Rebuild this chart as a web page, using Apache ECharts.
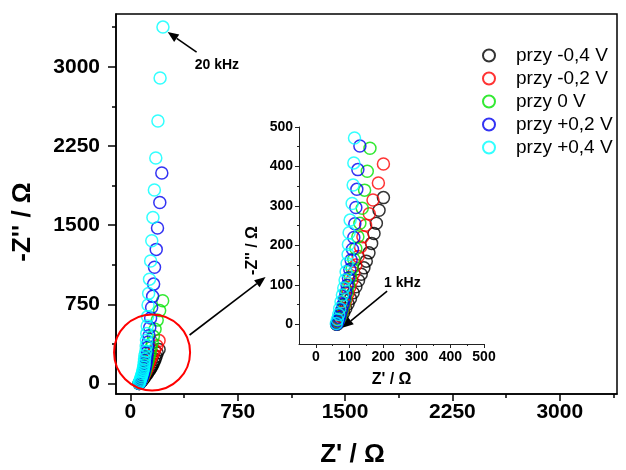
<!DOCTYPE html>
<html><head><meta charset="utf-8">
<script src="https://cdn.jsdelivr.net/npm/echarts@6/dist/echarts.min.js"></script>
<style>html,body{margin:0;padding:0;background:#fff}#c{width:626px;height:470px}</style>
</head><body><div id="c"></div>
<script>
const seriesNames = ['przy -0,4 V', 'przy -0,2 V', 'przy 0 V', 'przy +0,2 V', 'przy +0,4 V'];
const seriesColors = ['#000000', '#ff0000', '#00e400', '#0000f0', '#00ffff'];

const zRe_m04 = [63, 65, 68, 72, 77, 83, 89, 96, 103, 111, 119, 127, 135, 143, 150, 158, 166, 173, 180, 188, 201];
const zIm_m04 = [0, 2, 6, 12, 20, 29, 40, 52, 65, 80, 95, 111, 127, 143, 160, 181, 205, 230, 256, 289, 321];

const zRe_m02 = [62, 63, 66, 69, 73, 77, 81, 86, 91, 96, 101, 107, 113, 119, 126, 133, 140, 148, 159, 170, 186, 201];
const zIm_m02 = [0, 2, 6, 12, 20, 29, 39, 51, 64, 78, 94, 111, 130, 150, 172, 196, 222, 251, 280, 315, 358, 406];

const zRe_0 = [62, 64, 67, 71, 75, 79, 84, 88, 93, 98, 103, 108, 113, 119, 125, 131, 138, 145, 153, 161, 173, 188, 205, 226];
const zIm_0 = [0, 2, 7, 15, 25, 36, 49, 64, 81, 99, 119, 141, 165, 192, 222, 256, 294, 340, 388, 446, 513, 600, 690, 784];

const zRe_p02 = [62, 64, 67, 70, 73, 77, 81, 85, 89, 93, 97, 101, 105, 109, 113, 116, 119, 122, 125, 131, 136, 142, 149, 156, 163, 169, 181, 190, 206, 220];
const zIm_p02 = [0, 3, 9, 17, 26, 37, 50, 64, 80, 98, 117, 139, 163, 190, 220, 255, 296, 342, 392, 452, 530, 620, 720, 825, 941, 1100, 1270, 1473, 1715, 1993];

const zRe_p04 = [61, 64, 68, 71, 75, 79, 83, 87, 90, 93, 96, 97, 99, 102, 108, 111, 113, 115, 118, 121, 124, 128, 134, 142, 150, 158, 168, 178, 193, 208, 228];
const zIm_p04 = [2, 12, 25, 40, 57, 74, 92, 112, 133, 154, 177, 202, 232, 264, 306, 353, 409, 472, 545, 633, 743, 853, 988, 1160, 1352, 1573, 1832, 2135, 2487, 2894, 3376];

const mainXTicks = [0, 750, 1500, 2250, 3000];
const mainXMinor = [375, 1125, 1875, 2625, 3375];
const mainYTicks = [0, 750, 1500, 2250, 3000];
const mainYMinor = [375, 1125, 1875, 2625, 3375];
const insetTicks = [0, 100, 200, 300, 400, 500];
const insetMinor = [50, 150, 250, 350, 450];

const reArr = [zRe_m04, zRe_m02, zRe_0, zRe_p02, zRe_p04];
const imArr = [zIm_m04, zIm_m02, zIm_0, zIm_p02, zIm_p04];
const FF = "'Liberation Sans', Arial, sans-serif";

const chart = echarts.init(document.getElementById('c'), null, {renderer: 'canvas'});

function pairs(i) { return reArr[i].map((x, k) => [x, imArr[i][k]]); }

const series = [];
for (let i = 0; i < 5; i++) {
  series.push({
    name: seriesNames[i], type: 'scatter', xAxisIndex: 0, yAxisIndex: 0,
    data: pairs(i), symbol: 'circle', symbolSize: 12,
    itemStyle: {color: 'rgba(0,0,0,0)', borderColor: seriesColors[i], borderWidth: 1.5},
    emphasis: {disabled: true}, z: 3
  });
}
for (let i = 0; i < 5; i++) {
  series.push({
    name: seriesNames[i], type: 'scatter', xAxisIndex: 2, yAxisIndex: 2,
    data: pairs(i), symbol: 'circle', symbolSize: 12, clip: true,
    itemStyle: {color: 'rgba(0,0,0,0)', borderColor: seriesColors[i], borderWidth: 1.5},
    emphasis: {disabled: true}, z: 3
  });
}

const plain = v => String(v);
const lblMain = {fontFamily: FF, fontWeight: 'bold', fontSize: 21, color: '#000', formatter: plain};
const lblInset = {fontFamily: FF, fontWeight: 'bold', fontSize: 14, color: '#000', formatter: plain};

function minorAxis(gi, pos, mn, mx, vals, len, col, w) {
  return {type: 'value', gridIndex: gi, position: pos, min: mn, max: mx,
    axisLine: {show: false, onZero: false},
    axisTick: {show: true, customValues: vals, length: len, lineStyle: {color: col, width: w}},
    axisLabel: {show: false}, splitLine: {show: false}};
}

const option = {
  backgroundColor: '#ffffff',
  animation: false,
  grid: [
    {left: 116, top: 14, right: 9, bottom: 76, show: true, borderColor: '#000', borderWidth: 1.5, backgroundColor: 'transparent', containLabel: false, outerBoundsMode: 'none'},
    {left: 299, top: 127, right: 142, bottom: 126, show: false, containLabel: false, outerBoundsMode: 'none'}
  ],
  legend: {
    orient: 'vertical', left: 477, top: 41, itemWidth: 44, itemHeight: 12, itemGap: 4,
    data: seriesNames,
    textStyle: {fontFamily: FF, fontSize: 19, color: '#000', lineHeight: 19},
    selectedMode: false
  },
  xAxis: [
    {type: 'value', gridIndex: 0, position: 'bottom', min: -100, max: 3400,
     name: "Z' / Ω", nameLocation: 'middle', nameGap: 48,
     nameTextStyle: {fontFamily: FF, fontWeight: 'bold', fontSize: 26, color: '#000', padding: [0, 28, 0, 0]},
     axisLine: {show: true, onZero: false, lineStyle: {color: '#000', width: 1.5}},
     axisTick: {show: true, customValues: mainXTicks, length: 7, lineStyle: {color: '#000', width: 1.5}},
     axisLabel: {show: true, customValues: mainXTicks, margin: 8, ...lblMain},
     splitLine: {show: false}},
    minorAxis(0, 'bottom', -100, 3400, mainXMinor, 4, '#000', 1.5),
    {type: 'value', gridIndex: 1, position: 'bottom', min: -50, max: 500,
     name: "Z' / Ω", nameLocation: 'middle', nameGap: 28,
     nameTextStyle: {fontFamily: FF, fontWeight: 'bold', fontSize: 16, color: '#000'},
     axisLine: {show: true, onZero: false, lineStyle: {color: '#222', width: 1}},
     axisTick: {show: true, customValues: insetTicks, length: 4, lineStyle: {color: '#222', width: 1}},
     axisLabel: {show: true, customValues: insetTicks, margin: 6, ...lblInset},
     splitLine: {show: false}},
    minorAxis(1, 'bottom', -50, 500, insetMinor, 2, '#222', 1)
  ],
  yAxis: [
    {type: 'value', gridIndex: 0, position: 'left', min: -100, max: 3500,
     name: "-Z'' / Ω", nameLocation: 'middle', nameGap: 80, nameRotate: 90,
     nameTextStyle: {fontFamily: FF, fontWeight: 'bold', fontSize: 26, color: '#000', padding: [0, 36, 0, 0]},
     axisLine: {show: true, onZero: false, lineStyle: {color: '#000', width: 1.5}},
     axisTick: {show: true, customValues: mainYTicks, length: 8, lineStyle: {color: '#000', width: 1.5}},
     axisLabel: {show: true, customValues: mainYTicks, margin: 16, ...lblMain},
     splitLine: {show: false}},
    minorAxis(0, 'left', -100, 3500, mainYMinor, 4, '#000', 1.5),
    {type: 'value', gridIndex: 1, position: 'left', min: -50, max: 500,
     name: "-Z'' / Ω", nameLocation: 'middle', nameGap: 38, nameRotate: 90,
     nameTextStyle: {fontFamily: FF, fontWeight: 'bold', fontSize: 16, color: '#000', padding: [0, 30, 0, 0]},
     axisLine: {show: true, onZero: false, lineStyle: {color: '#222', width: 1}},
     axisTick: {show: true, customValues: insetTicks, length: 4, lineStyle: {color: '#222', width: 1}},
     axisLabel: {show: true, customValues: insetTicks, margin: 6, ...lblInset},
     splitLine: {show: false}},
    minorAxis(1, 'left', -50, 500, insetMinor, 2, '#222', 1)
  ],
  series: series
};
chart.setOption(option);

// annotations in data coordinates
const ann20kHz = {tail: [463, 3139], head: [261, 3329], text: [450, 3011]};
const annZoom = {center: [152, 294], tail: [414, 459], head: [945, 1008]};
const ann1kHz = {tail: [212, 84], head: [79, -9], text: [203, 104]};

const pm = v => chart.convertToPixel({seriesIndex: 0}, v);
const pi = v => chart.convertToPixel({seriesIndex: 5}, v);

function arrow(a, b) {
  const dx = b[0] - a[0], dy = b[1] - a[1];
  const L = Math.sqrt(dx * dx + dy * dy), ux = dx / L, uy = dy / L;
  const hl = 11, hw = 4.5;
  const bx = b[0] - ux * hl, by = b[1] - uy * hl;
  return [
    {type: 'line', shape: {x1: a[0], y1: a[1], x2: bx, y2: by}, style: {stroke: '#000', lineWidth: 1.6}, z: 10},
    {type: 'polygon', shape: {points: [[b[0], b[1]], [bx - uy * hw, by + ux * hw], [bx + uy * hw, by - ux * hw]]}, style: {fill: '#000'}, z: 10}
  ];
}

const c = pm(annZoom.center);
const t20 = pm(ann20kHz.text);
const t1 = pi(ann1kHz.text);
const graphics = [
  {type: 'circle', shape: {cx: c[0], cy: c[1], r: 38}, style: {fill: 'none', stroke: '#ff0000', lineWidth: 2}, z: 10},
  ...arrow(pm(ann20kHz.tail), pm(ann20kHz.head)),
  ...arrow(pm(annZoom.tail), pm(annZoom.head)),
  ...arrow(pi(ann1kHz.tail), pi(ann1kHz.head)),
  {type: 'text', x: t20[0], y: t20[1], style: {text: '20 kHz', fill: '#000', font: "bold 14px 'Liberation Sans', Arial, sans-serif", verticalAlign: 'middle'}, z: 10},
  {type: 'text', x: t1[0], y: t1[1], style: {text: '1 kHz', fill: '#000', font: "bold 14px 'Liberation Sans', Arial, sans-serif", verticalAlign: 'middle'}, z: 10}
];
chart.setOption({graphic: graphics});
</script>
</body></html>
